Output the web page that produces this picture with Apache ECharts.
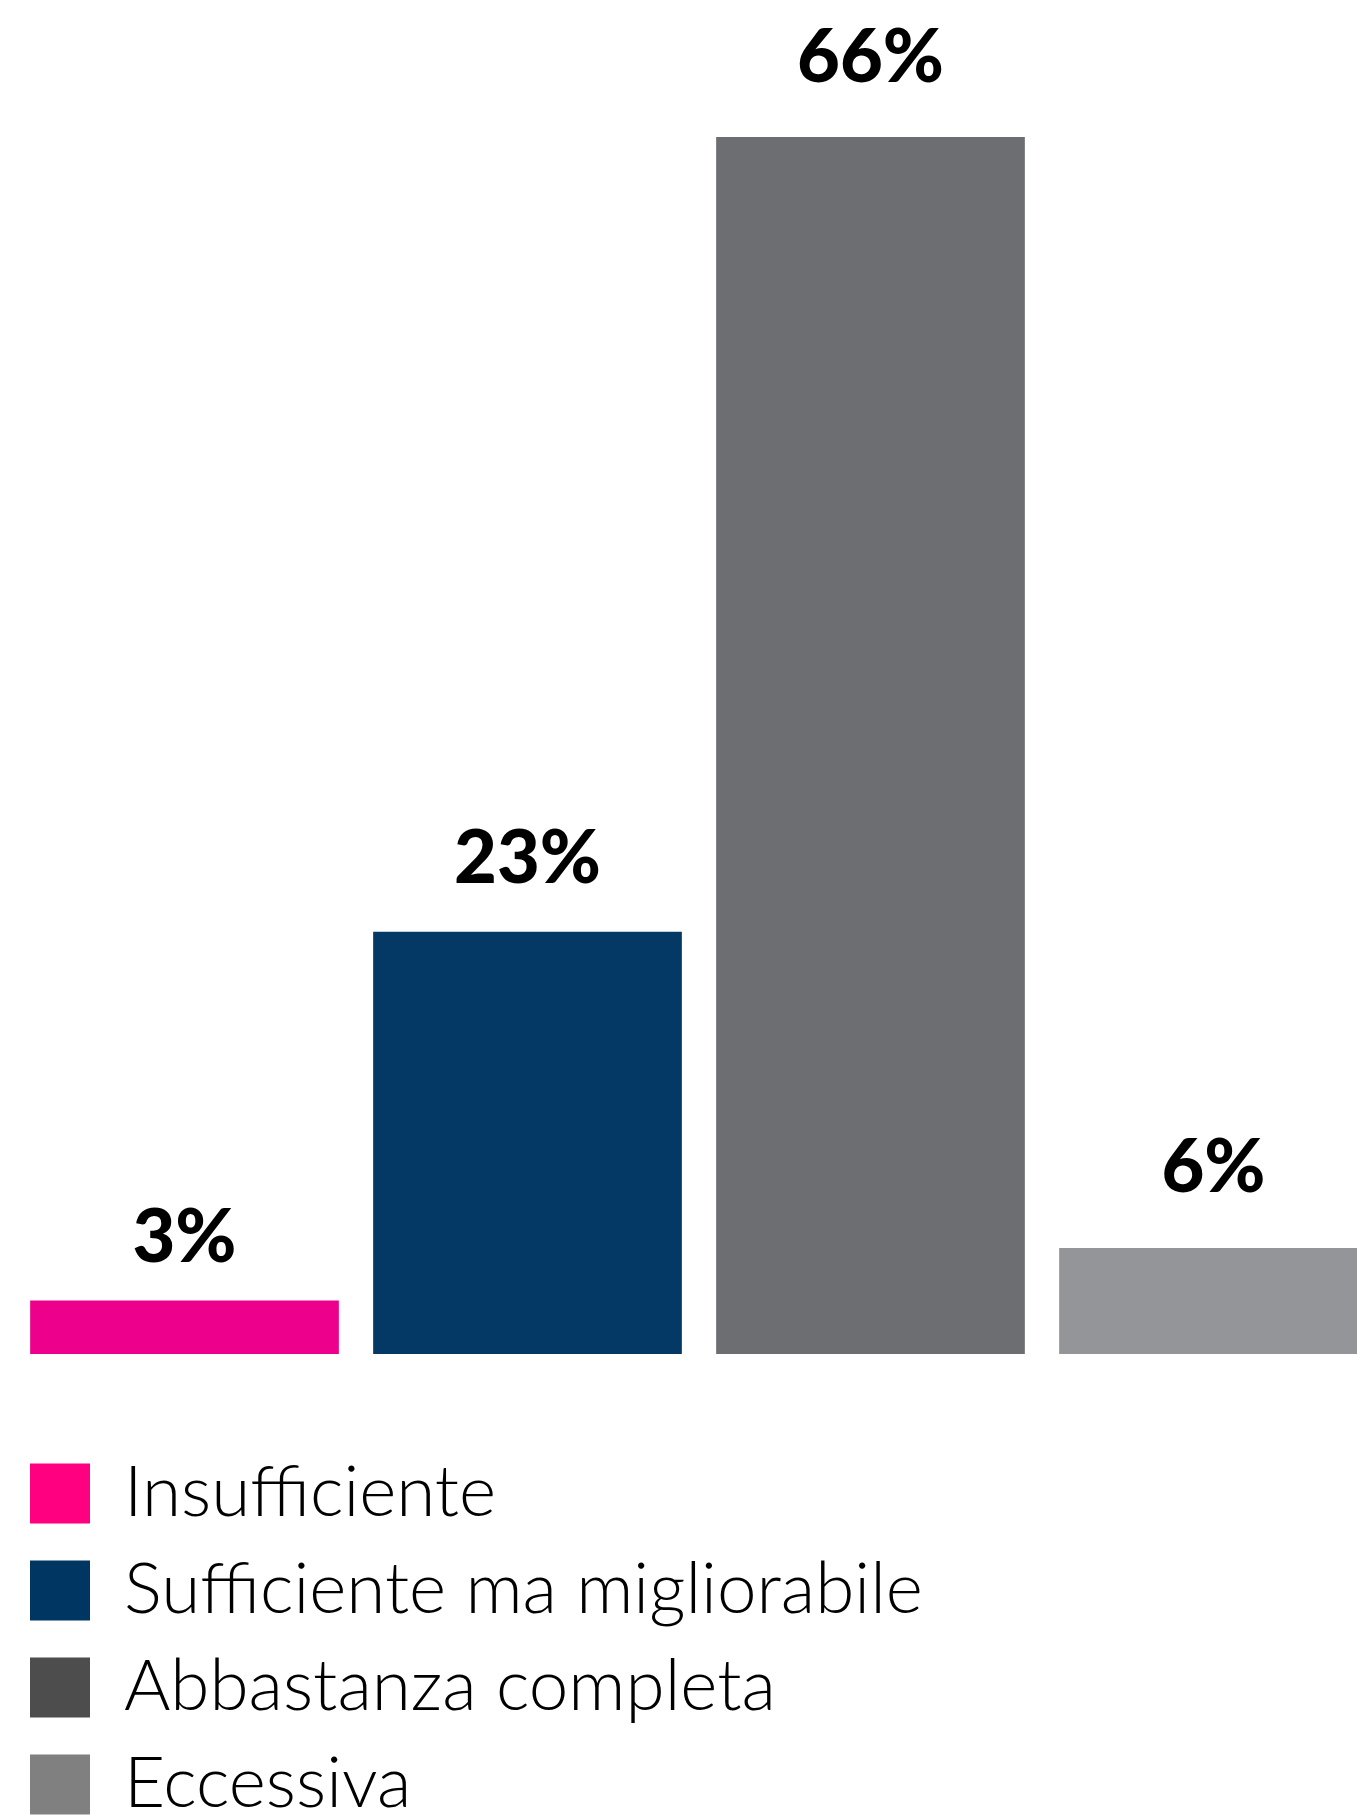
<!DOCTYPE html>
<html>
<head>
<meta charset="utf-8">
<script src="https://cdn.jsdelivr.net/npm/echarts@6/dist/echarts.min.js"></script>
<style>
  html, body { margin: 0; padding: 0; background: #fff; overflow: hidden; }
  /* il grafico originale è tagliato a destra: contenitore più largo della pagina */
  #chart { width: 1400px; height: 1900px; }
</style>
</head>
<body>
<div id="chart"></div>
<script>
// categorie e valori
const categories = ["Insufficiente", "Sufficiente ma migliorabile", "Abbastanza completa", "Eccessiva"];
const values = [2.9, 22.9, 66, 5.75];
const labels = ["3%", "23%", "66%", "6%"];
const barColors = ["#EC008C", "#043966", "#6D6E71", "#939598"];
const legendColors = ["#FF0080", "#003662", "#4D4D4D", "#808080"];
const labelDistance = [25, 36, 42, 43];

const myChart = echarts.init(document.getElementById("chart"));

// una serie per categoria, così la legenda mostra ogni voce
const series = categories.map(function (name, i) {
  return {
    name: name,
    type: "bar",
    stack: "tot",
    barCategoryGap: "10%",
    data: values.map(function (v, j) { return j === i ? v : "-"; }),
    itemStyle: { color: barColors[i] },
    label: {
      show: true,
      position: "top",
      distance: labelDistance[i],
      color: "#000",
      fontFamily: "Lato",
      fontWeight: 900,
      fontSize: 74,
      formatter: function () { return labels[i]; }
    }
  };
});

const option = {
  animation: false,
  grid: {
    left: 13,
    width: 1372,
    top: 137,
    height: 1217,
    containLabel: false
  },
  xAxis: {
    type: "category",
    data: categories,
    axisLine: { show: false },
    axisTick: { show: false },
    axisLabel: { show: false }
  },
  yAxis: {
    type: "value",
    min: 0,
    max: 66,
    show: false,
    splitLine: { show: false }
  },
  legend: {
    orient: "vertical",
    left: 30,
    top: 1458,
    padding: 0,
    itemWidth: 60,
    itemHeight: 60,
    itemGap: 26,
    icon: "rect",
    textStyle: {
      fontFamily: "Lato",
      fontWeight: 300,
      fontSize: 71,
      lineHeight: 56,
      color: "#000",
      padding: [4, 0, 0, 29]
    },
    data: categories.map(function (name, i) {
      return { name: name, itemStyle: { color: legendColors[i] } };
    })
  },
  series: series
};

myChart.setOption(option);
</script>
</body>
</html>
